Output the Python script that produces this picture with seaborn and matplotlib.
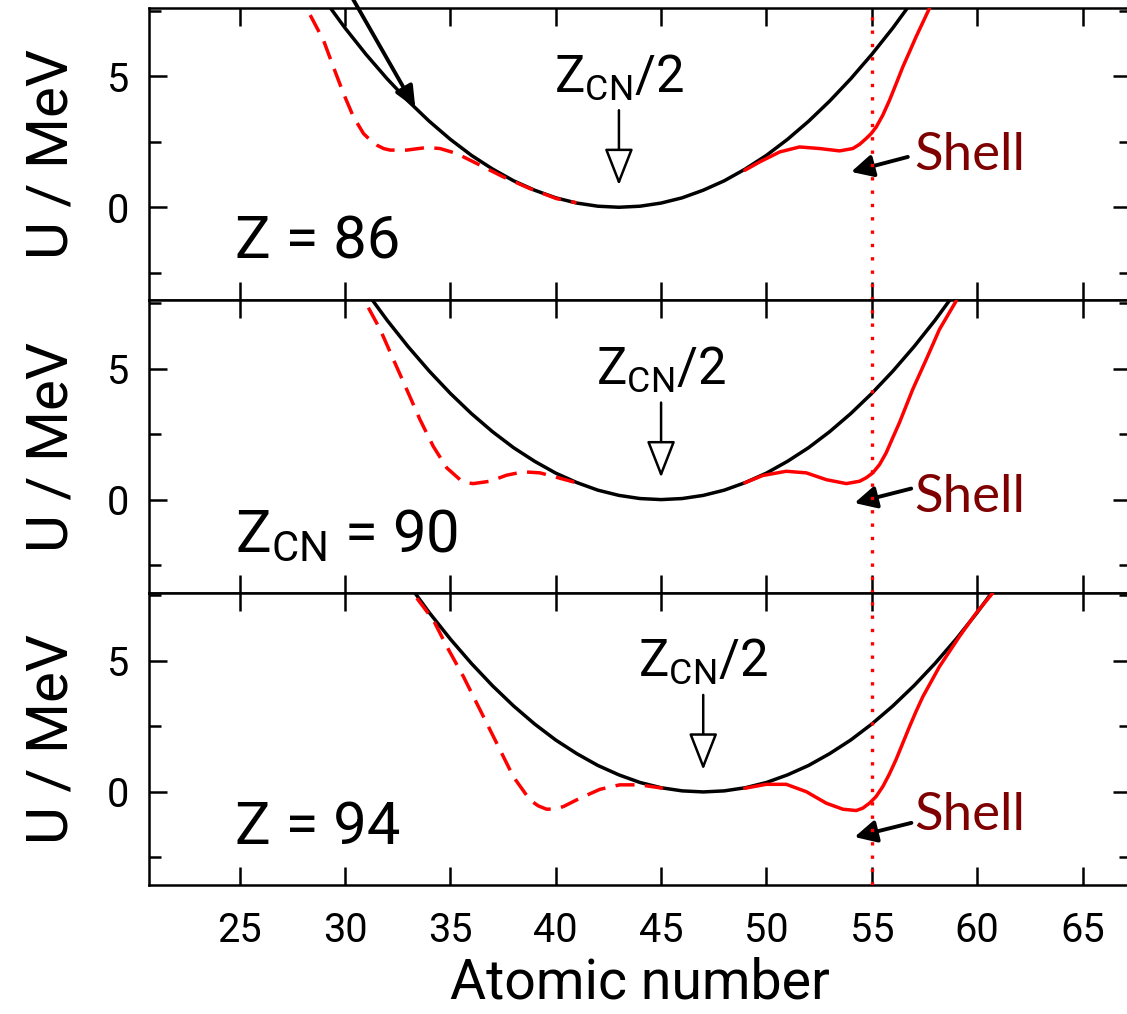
import matplotlib.pyplot as plt
import pandas as pd
import seaborn as sns
from matplotlib.ticker import MultipleLocator

# Macroscopic (smooth) energy: offset from Z_CN/2 -> U (MeV)
LDM_OFFSET = [-14, -13, -12, -11, -10, -9, -8, -7, -6, -5, -4, -3, -2, -1, 0,
              1, 2, 3, 4, 5, 6, 7, 8, 9, 10, 11, 12, 13, 14]
LDM_U = [7.94, 6.84, 5.83, 4.90, 4.05, 3.28, 2.59, 1.98, 1.46, 1.01, 0.65, 0.36, 0.16, 0.04, 0.00,
         0.04, 0.16, 0.36, 0.65, 1.01, 1.46, 1.98, 2.59, 3.28, 4.05, 4.90, 5.83, 6.84, 7.94]

ZCN_HALF = [43, 45, 47]
PANEL_LABELS = ['Z = 86', r'$\mathregular{Z_{CN}}$ = 90', 'Z = 94']

# With shell correction, light side (dashed)
LEFT_Z_86 = [28.35, 28.98, 29.45, 29.93, 30.40, 30.88, 31.20, 31.51, 31.83, 32.14, 32.93, 33.88,
             34.51, 35.30, 36.25, 37.51, 38.78, 40.04, 40.99]
LEFT_U_86 = [7.33, 6.37, 5.35, 4.34, 3.45, 2.81, 2.56, 2.37, 2.24, 2.18, 2.18, 2.28,
             2.24, 2.05, 1.67, 1.16, 0.71, 0.33, 0.17]
LEFT_Z_90 = [31.11, 31.67, 32.30, 32.93, 33.56, 34.19, 34.83, 35.46, 35.78, 36.09, 36.88, 37.67,
             38.46, 39.25, 40.04, 40.99]
LEFT_U_90 = [7.32, 6.49, 5.34, 4.20, 3.05, 2.03, 1.21, 0.76, 0.64, 0.61, 0.70, 0.93,
             1.06, 1.02, 0.85, 0.64]
LEFT_Z_94 = [33.41, 34.19, 34.83, 35.62, 36.41, 37.20, 37.99, 38.78, 39.17, 39.57, 39.96, 40.36,
             41.15, 42.10, 43.04, 43.99, 45.09]
LEFT_U_94 = [7.39, 6.56, 5.55, 4.40, 3.13, 1.86, 0.58, -0.31, -0.53, -0.66, -0.65, -0.56,
             -0.24, 0.10, 0.27, 0.27, 0.14]

# With shell correction, heavy side (solid)
RIGHT_Z_86 = [48.97, 49.68, 50.63, 51.57, 52.52, 53.47, 54.10, 54.42, 54.73, 54.97, 55.21,
              55.52, 55.84, 56.16, 56.47, 56.79, 57.10, 57.73]
RIGHT_U_86 = [1.41, 1.73, 2.11, 2.30, 2.24, 2.15, 2.24, 2.40, 2.62, 2.81, 3.06,
              3.51, 4.08, 4.72, 5.35, 5.93, 6.50, 7.58]
RIGHT_Z_90 = [48.97, 49.83, 50.94, 51.89, 52.84, 53.79, 54.42, 54.73, 55.05, 55.37, 55.68,
              55.99, 56.31, 56.94, 57.58, 58.21, 59.00]
RIGHT_U_90 = [0.64, 0.92, 1.08, 1.02, 0.76, 0.61, 0.70, 0.83, 1.02, 1.34, 1.78,
              2.35, 2.93, 4.20, 5.34, 6.49, 7.57]
RIGHT_Z_94 = [48.97, 49.99, 50.94, 51.89, 52.84, 53.63, 54.26, 54.57, 54.89, 55.20, 55.52,
              55.84, 56.16, 56.47, 56.79, 57.10, 57.42, 58.21, 59.16, 59.95, 60.73]
RIGHT_U_94 = [0.14, 0.29, 0.29, 0.01, -0.43, -0.66, -0.71, -0.62, -0.43, -0.18, 0.20,
              0.69, 1.25, 1.86, 2.49, 3.07, 3.63, 4.78, 5.93, 6.82, 7.58]

SHELL_Z = 55
X_TICKS = [25, 30, 35, 40, 45, 50, 55, 60, 65]

# "Shell" arrows: (tail Z, tail U, tip Z, tip U) and text baseline U per panel
SHELL_ARROWS = [(56.71, 1.92, 54.02, 1.35),
                (56.87, 0.42, 54.18, -0.13),
                (56.88, -1.18, 54.18, -1.72)]
SHELL_TEXT_U = [1.41, -0.46, -1.45]


def main():
    sns.set_theme(style='ticks', rc={
        'axes.linewidth': 1.8,
        'text.color': 'black',
        'axes.labelcolor': 'black',
        'axes.edgecolor': 'black',
        'xtick.color': 'black',
        'ytick.color': 'black',
    })
    plt.rcParams['font.family'] = ['Roboto', 'DejaVu Sans']
    plt.rcParams['mathtext.default'] = 'regular'

    lefts = [(LEFT_Z_86, LEFT_U_86), (LEFT_Z_90, LEFT_U_90), (LEFT_Z_94, LEFT_U_94)]
    rights = [(RIGHT_Z_86, RIGHT_U_86), (RIGHT_Z_90, RIGHT_U_90), (RIGHT_Z_94, RIGHT_U_94)]

    fig, axes = plt.subplots(3, 1, figsize=(11.27, 10.14), dpi=100, sharex=True)
    fig.subplots_adjust(left=149 / 1127, right=1131 / 1127,
                        bottom=1 - 885 / 1014, top=1 - 8 / 1014, hspace=0)

    for i, ax in enumerate(axes):
        zc = ZCN_HALF[i]
        ldm = pd.DataFrame({'Z': [zc + d for d in LDM_OFFSET], 'U': LDM_U})
        left = pd.DataFrame({'Z': lefts[i][0], 'U': lefts[i][1]})
        right = pd.DataFrame({'Z': rights[i][0], 'U': rights[i][1]})

        sns.lineplot(data=ldm, x='Z', y='U', ax=ax, color='black', lw=2.5,
                     estimator=None, sort=False, zorder=2)
        sns.lineplot(data=left, x='Z', y='U', ax=ax, color='red', lw=2.5,
                     linestyle=(0, (5.5, 3)), estimator=None, sort=False, zorder=3)
        sns.lineplot(data=right, x='Z', y='U', ax=ax, color='red', lw=2.5,
                     estimator=None, sort=False, zorder=3)

        ax.axvline(SHELL_Z, color='red', lw=2.4, linestyle=(0, (1, 3)), zorder=4)

        ax.set_xlim(20.7, 67.3)
        ax.set_ylim(-3.55, 7.6)
        ax.set_xticks(X_TICKS)
        ax.yaxis.set_major_locator(MultipleLocator(5))
        ax.yaxis.set_minor_locator(MultipleLocator(2.5))
        ax.tick_params(which='both', direction='in', top=True, right=True,
                       width=1.8, labelsize=28.5, color='black', labelcolor='black')
        ax.tick_params(which='major', length=13)
        ax.tick_params(which='minor', length=8.6)
        ax.tick_params(axis='x', pad=19)
        ax.tick_params(axis='y', pad=14)

        ax.set_ylabel('U / MeV', fontsize=42)
        ax.yaxis.set_label_coords(-0.0703, 0.5)
        ax.set_xlabel('')

        # panel label
        ax.text(24.8, -1.97, PANEL_LABELS[i], fontsize=43, ha='left', va='baseline')

        # Z_CN/2 marker
        ax.text(zc, 4.42, r'$\mathregular{Z_{CN}/2}$', fontsize=36.5,
                ha='center', va='baseline')
        ax.annotate('', xy=(zc, 0.84), xytext=(zc, 3.7),
                    arrowprops=dict(arrowstyle='-|>,head_length=1.15,head_width=0.45',
                                    mutation_scale=20, lw=1.8, fc='white', ec='black',
                                    shrinkA=0, shrinkB=0))

        # Shell annotation
        tz, tu, hz, hu = SHELL_ARROWS[i]
        ax.annotate('', xy=(hz, hu), xytext=(tz, tu),
                    arrowprops=dict(arrowstyle='-|>,head_length=0.55,head_width=0.28',
                                    mutation_scale=24, lw=2.8, color='black',
                                    shrinkA=0, shrinkB=0))
        ax.text(57.0, SHELL_TEXT_U[i], 'Shell', fontsize=38, color='#7f0000',
                family=['Lato', 'DejaVu Sans'], ha='left', va='baseline')

    # arrow entering from above the top panel
    axes[0].annotate('', xy=(33.34, 3.78), xytext=(29.27, 9.5),
                     annotation_clip=False,
                     arrowprops=dict(arrowstyle='-|>,head_length=0.5,head_width=0.22',
                                     mutation_scale=26, lw=2.8, color='black',
                                     shrinkA=0, shrinkB=0))

    axes[2].set_xlabel('Atomic number', fontsize=40)
    axes[2].xaxis.set_label_coords(0.5, -0.245)

    plt.savefig('out.png', dpi=100)


if __name__ == '__main__':
    main()
